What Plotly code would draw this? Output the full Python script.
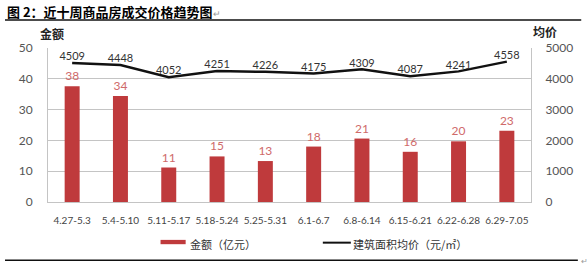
import plotly.graph_objects as go

categories = ["4.27-5.3", "5.4-5.10", "5.11-5.17", "5.18-5.24", "5.25-5.31",
              "6.1-6.7", "6.8-6.14", "6.15-6.21", "6.22-6.28", "6.29-7.05"]
amount = [37.6, 34.4, 11.2, 14.8, 13.3, 18.0, 20.6, 16.3, 19.7, 23.1]
amount_labels = ["38", "34", "11", "15", "13", "18", "21", "16", "20", "23"]
avg_price = [4509, 4448, 4052, 4251, 4226, 4175, 4309, 4087, 4241, 4558]
left_ticks = [0, 10, 20, 30, 40, 50]
right_ticks = [0, 1000, 2000, 3000, 4000, 5000]

FONT = "Lato, 'Noto Sans CJK SC', sans-serif"
CJK = "'Noto Sans CJK SC', sans-serif"
BAR = "#bf3a3c"
GRID = "#c4c4c4"

fig = go.Figure()
fig.add_trace(go.Bar(
    x=categories, y=amount, name="金额（亿元）",
    marker=dict(color=BAR, line=dict(width=0)),
    text=amount_labels, textposition="outside",
    textfont=dict(color="#cf6a6a", size=12, family=FONT),
    cliponaxis=False, yaxis="y", showlegend=False,
))
fig.add_trace(go.Scatter(
    x=categories, y=avg_price, name="建筑面积均价（元/㎡）",
    mode="lines+text", line=dict(color="#111111", width=2.5),
    text=[str(v) for v in avg_price], textposition="top center",
    textfont=dict(color="#333333", size=11, family=FONT),
    cliponaxis=False, yaxis="y2", showlegend=False,
))

fig.update_layout(
    width=587, height=269,
    margin=dict(l=48, r=56, t=48, b=67),
    paper_bgcolor="white", plot_bgcolor="white",
    bargap=0.69,
    font=dict(family=FONT, color="#555555", size=11),
    xaxis=dict(showgrid=False, showline=True, linecolor=GRID, linewidth=1,
               ticks="", tickfont=dict(size=10, color="#444444"),
               ticklabelstandoff=9, mirror=False, tickangle=0),
    yaxis=dict(range=[0, 50], tickvals=left_ticks, showgrid=True,
               gridcolor=GRID, gridwidth=1, showline=True, linecolor=GRID,
               zeroline=False, ticks="", ticklabelstandoff=12,
               tickfont=dict(size=12, color="#555555")),
    yaxis2=dict(range=[0, 5000], tickvals=right_ticks, overlaying="y",
                side="right", showgrid=False, showline=True, linecolor=GRID,
                zeroline=False, ticks="", ticklabelstandoff=11,
                tickfont=dict(size=12, color="#555555")),
)

# Title and rules
fig.add_annotation(xref="paper", yref="paper", x=-0.089, y=1.238,
                   xanchor="left", yanchor="middle", showarrow=False,
                   text="<b>图 2：近十周商品房成交价格趋势图</b><span style='color:#999;font-size:9px'>↵</span>",
                   font=dict(family=CJK, size=13, color="#000000"))
fig.add_shape(type="line", xref="paper", yref="paper",
              x0=-0.089, x1=1.104, y0=1.182, y1=1.182,
              line=dict(color="#111111", width=1.5))
fig.add_shape(type="line", xref="paper", yref="paper",
              x0=-0.089, x1=1.097, y0=-0.379, y1=-0.379,
              line=dict(color="#111111", width=1.5))
fig.add_annotation(xref="paper", yref="paper", x=1.099, y=-0.379,
                   xanchor="left", yanchor="middle", showarrow=False,
                   text="↵", font=dict(family=CJK, size=8, color="#999999"))

# Axis titles
fig.add_annotation(xref="paper", yref="paper", x=-0.021, y=1.097,
                   xanchor="left", yanchor="middle", showarrow=False,
                   text="<b>金额</b>", font=dict(family=CJK, size=12, color="#222222"))
fig.add_annotation(xref="paper", yref="paper", x=1.0, y=1.104,
                   xanchor="left", yanchor="middle", showarrow=False,
                   text="<b>均价</b>", font=dict(family=CJK, size=12, color="#222222"))

# Custom legend
fig.add_shape(type="rect", xref="paper", yref="paper",
              x0=0.233, x1=0.285, y0=-0.246, y1=-0.274,
              fillcolor=BAR, line=dict(width=0))
fig.add_annotation(xref="paper", yref="paper", x=0.290, y=-0.27,
                   xanchor="left", yanchor="middle", showarrow=False,
                   text="金额（亿元）", font=dict(family=CJK, size=11, color="#333333"))
fig.add_shape(type="line", xref="paper", yref="paper",
              x0=0.569, x1=0.627, y0=-0.264, y1=-0.264,
              line=dict(color="#111111", width=2))
fig.add_annotation(xref="paper", yref="paper", x=0.627, y=-0.27,
                   xanchor="left", yanchor="middle", showarrow=False,
                   text="建筑面积均价（元/㎡）", font=dict(family=CJK, size=11, color="#333333"))

fig.write_html("out.html")
